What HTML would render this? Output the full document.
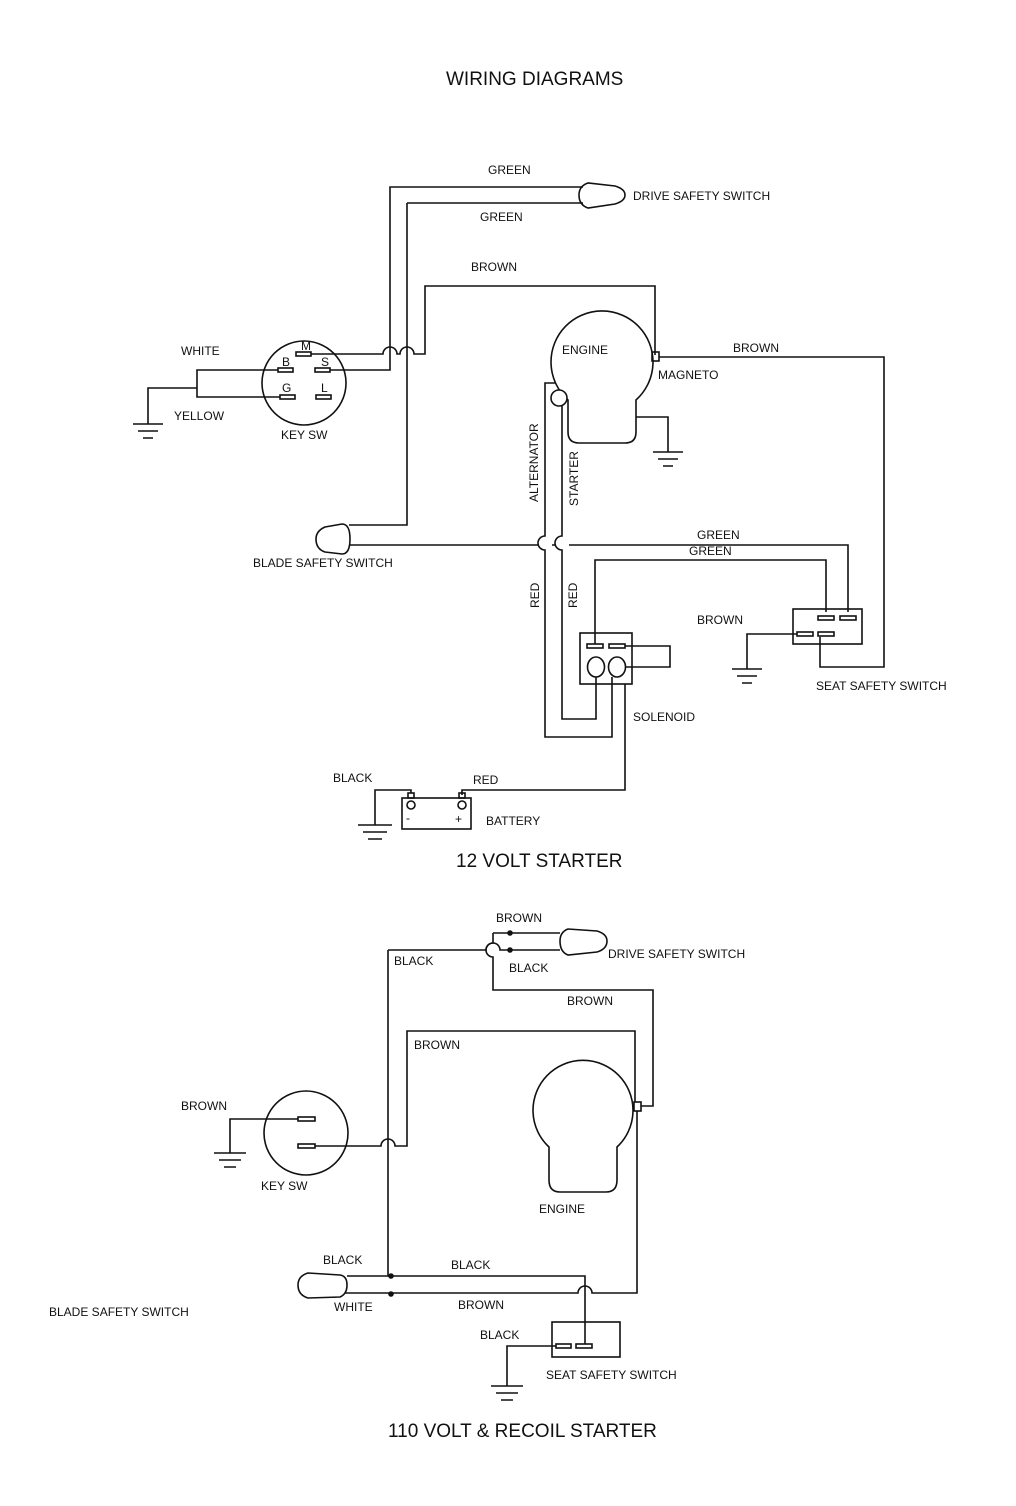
<!DOCTYPE html>
<html><head><meta charset="utf-8"><style>
html,body{margin:0;padding:0;background:#fff;}
svg{display:block;}
text{font-family:"Liberation Sans",sans-serif;font-size:12px;fill:#111;}
.t{font-size:19px;}
</style></head><body>
<svg width="1016" height="1506" viewBox="0 0 1016 1506" xmlns="http://www.w3.org/2000/svg">
<g fill="none" stroke="#111" stroke-width="1.6">
<!-- TOP DIAGRAM -->
<!-- key switch -->
<circle cx="304" cy="383" r="42"/>
<rect x="296" y="352" width="15" height="4"/>
<rect x="278" y="368" width="15" height="4"/>
<rect x="315" y="368" width="15" height="4"/>
<rect x="280" y="395" width="15" height="4"/>
<rect x="316" y="395" width="15" height="4"/>
<!-- white/yellow to ground -->
<path d="M278 370 H197 V397 H280"/>
<path d="M197 388 H148 V424"/>
<path d="M133 424 H163 M138 431 H158 M143 438 H153"/>
<!-- S wire green -->
<path d="M330 370 H390 V187 H583"/>
<!-- green 2 -->
<path d="M407 203 H583"/>
<path d="M407 203 V525 H349"/>
<!-- drive switch -->
<path d="M588 183 Q579 186 579 195 Q579 205 588 208 L615 204 Q625 201 625 195 Q625 189 615 186 Z"/>
<!-- M wire with hops -->
<path d="M311 354 H383 A7 7 0 0 1 397 354 H400 A7 7 0 0 1 414 354 H425 V286 H655 V355"/>
<!-- engine -->
<path d="M568 400 A51 51 0 1 1 636 400 L636 432 Q636 443 625 443 L579 443 Q568 443 568 432 Z"/>
<rect x="652" y="352" width="7" height="9"/>
<path d="M659 357 H884 V667 H820 V637"/>
<path d="M636 417 H668 V452"/>
<path d="M653 452 H683 M658 459 H678 M663 466 H673"/>
<!-- alternator / starter -->
<circle cx="559" cy="398" r="8" fill="#fff"/>
<path d="M555 383 H545 V536 A7 7 0 0 0 545 550 V737 H612 V677"/>
<path d="M562 405 V536 A7 7 0 0 0 562 550 V719 H596 V677"/>
<!-- blade switch -->
<path d="M325 527 Q316 531 316 539 Q316 549 325 552 L342 554 Q350 554 350 539 Q350 524 342 524 Z"/>
<path d="M350 545 H538 M552 545 H555 M569 545 H848 V612"/>
<!-- solenoid -->
<rect x="580" y="633" width="52" height="51"/>
<rect x="587" y="644" width="16" height="4"/>
<rect x="609" y="644" width="16" height="4"/>
<ellipse cx="596" cy="667" rx="8.5" ry="10"/>
<ellipse cx="617" cy="667" rx="8.5" ry="10"/>
<path d="M625 646 H670 V667 H626"/>
<path d="M595 644 V560 H826 V612"/>
<!-- seat switch -->
<rect x="793" y="609" width="69" height="35"/>
<rect x="818" y="616" width="16" height="4"/>
<rect x="840" y="616" width="16" height="4"/>
<rect x="797" y="632" width="16" height="4"/>
<rect x="818" y="632" width="16" height="4"/>
<path d="M797 634 H747 V669"/>
<path d="M732 669 H762 M737 676 H757 M742 683 H752"/>
<!-- battery -->
<path d="M625 684 V790 H462 V795"/>
<rect x="402" y="798" width="69" height="31"/>
<rect x="408" y="793" width="6" height="5"/>
<rect x="459" y="793" width="6" height="5"/>
<circle cx="411" cy="805" r="4"/><circle cx="462" cy="805" r="4"/>
<path d="M411 793 V790 H375 V825"/>
<path d="M358 825 H392 M363 832 H387 M368 839 H382"/>

<!-- BOTTOM DIAGRAM -->
<path d="M568 929 Q560 932 560 941 Q560 952 568 955 L597 952 Q607 949 607 941 Q607 934 597 931 Z"/>
<path d="M493 933 H560 M493 933 V943 A7 7 0 0 0 493 957 V990 H653 V1106 H641"/>
<path d="M388 950 H486 A7 7 0 0 1 500 950 H560"/>
<path d="M388 950 V1276"/>
<!-- key switch -->
<circle cx="306" cy="1133" r="42"/>
<rect x="298" y="1117" width="17" height="4"/>
<rect x="298" y="1144" width="17" height="4"/>
<path d="M298 1119 H230 V1153"/>
<path d="M214 1153 H246 M219 1160 H241 M224 1167 H236"/>
<path d="M315 1146 H381 A7 7 0 0 1 395 1146 H407 V1031 H635 V1102"/>
<!-- engine -->
<path d="M549 1147 A50 50 0 1 1 617 1147 L617 1180 Q617 1192 606 1192 L560 1192 Q549 1192 549 1180 Z"/>
<rect x="634" y="1102" width="7" height="9"/>
<path d="M637 1111 V1293 H592 A7 7 0 0 0 578 1293 H345"/>
<!-- blade switch -->
<path d="M308 1273 Q298 1276 298 1285 Q298 1295 308 1298 L340 1297 Q347 1294 347 1285 Q347 1276 340 1275 Z"/>
<path d="M347 1276 H585 V1344"/>
<!-- seat -->
<rect x="552" y="1322" width="68" height="35"/>
<rect x="556" y="1344" width="15" height="4"/>
<rect x="576" y="1344" width="16" height="4"/>
<path d="M556 1346 H507 V1386"/>
<path d="M491 1386 H523 M496 1393 H518 M501 1400 H513"/>
</g>
<g fill="#111">
<circle cx="510" cy="933" r="2.8"/><circle cx="510" cy="950" r="2.8"/>
<circle cx="391" cy="1276" r="2.8"/><circle cx="391" cy="1294" r="2.8"/>
</g>
<!-- labels -->
<text class="t" x="446" y="85">WIRING DIAGRAMS</text>
<text x="488" y="174">GREEN</text>
<text x="633" y="200">DRIVE SAFETY SWITCH</text>
<text x="480" y="221">GREEN</text>
<text x="471" y="271">BROWN</text>
<text x="181" y="355">WHITE</text>
<text x="174" y="420">YELLOW</text>
<text x="281" y="439">KEY SW</text>
<text x="301" y="350" font-size="11">M</text>
<text x="282" y="366" font-size="11">B</text>
<text x="321" y="366" font-size="11">S</text>
<text x="282" y="392" font-size="11">G</text>
<text x="321" y="392" font-size="11">L</text>
<text x="562" y="354">ENGINE</text>
<text x="658" y="379">MAGNETO</text>
<text x="733" y="352">BROWN</text>
<text transform="translate(538,502) rotate(-90)">ALTERNATOR</text>
<text transform="translate(578,506) rotate(-90)">STARTER</text>
<text x="253" y="567">BLADE SAFETY SWITCH</text>
<text x="697" y="539">GREEN</text>
<text x="689" y="555">GREEN</text>
<text transform="translate(539,608) rotate(-90)">RED</text>
<text transform="translate(577,608) rotate(-90)">RED</text>
<text x="697" y="624">BROWN</text>
<text x="816" y="690">SEAT SAFETY SWITCH</text>
<text x="633" y="721">SOLENOID</text>
<text x="333" y="782">BLACK</text>
<text x="473" y="784">RED</text>
<text x="406" y="822" font-size="10">-</text>
<text x="455" y="823" font-size="11">+</text>
<text x="486" y="825">BATTERY</text>
<text class="t" x="456" y="867">12 VOLT STARTER</text>
<text x="496" y="922">BROWN</text>
<text x="394" y="965">BLACK</text>
<text x="509" y="972">BLACK</text>
<text x="608" y="958">DRIVE SAFETY SWITCH</text>
<text x="567" y="1005">BROWN</text>
<text x="414" y="1049">BROWN</text>
<text x="181" y="1110">BROWN</text>
<text x="261" y="1190">KEY SW</text>
<text x="539" y="1213">ENGINE</text>
<text x="323" y="1264">BLACK</text>
<text x="451" y="1269">BLACK</text>
<text x="49" y="1316">BLADE SAFETY SWITCH</text>
<text x="334" y="1311">WHITE</text>
<text x="458" y="1309">BROWN</text>
<text x="480" y="1339">BLACK</text>
<text x="546" y="1379">SEAT SAFETY SWITCH</text>
<text class="t" x="388" y="1437">110 VOLT &amp; RECOIL STARTER</text>
</svg>
</body></html>
